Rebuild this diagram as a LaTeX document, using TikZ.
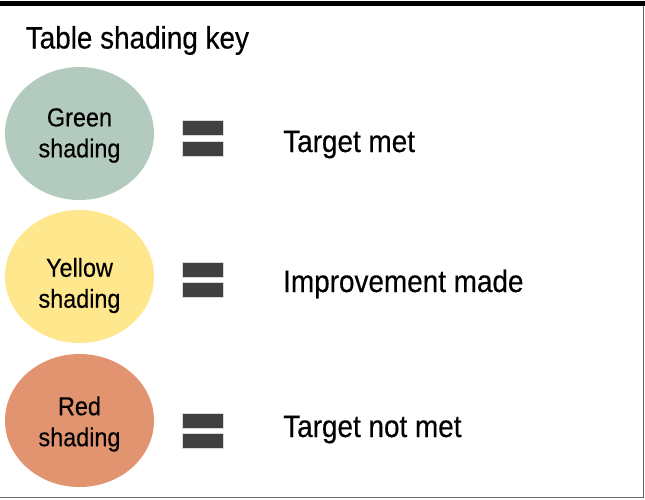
\documentclass[tikz,border=0pt]{standalone}
\usepackage{fontspec}
\setmainfont[FakeStretch=0.9, FakeBold=0.4]{Liberation Sans}
\usetikzlibrary{positioning, shapes.geometric}
\usepackage{xcolor}
\definecolor{keygreen}{HTML}{B3CBBE}
\definecolor{keyyellow}{HTML}{FFE78D}
\definecolor{keyred}{HTML}{E1946F}
\definecolor{keybar}{HTML}{404040}

\begin{document}
\begin{tikzpicture}[
    x=1pt, y=-1pt,
    blob/.style={ellipse, fill=#1, minimum width=149pt, minimum height=133pt, inner sep=0pt},
    blobtext/.style={align=center, inner sep=0pt, font=\fontsize{26}{31}\selectfont},
    bar/.style={rectangle, fill=keybar, draw=black!15, line width=0.6pt,
                minimum width=41pt, minimum height=15pt, inner sep=0pt},
    meaning/.style={anchor=base west, inner sep=0pt, font=\fontsize{31}{36}\selectfont}
  ]
    % frame
    \useasboundingbox (0,0) rectangle (645,499);
    \draw[line width=5pt] (0,3.5) -- (645,3.5);
    \draw[black!60, line width=1.3pt] (643.5,6) -- (643.5,497.5) -- (0,497.5);

    \node[anchor=base west, inner sep=0pt, font=\fontsize{31}{36}\selectfont] (title) at (25.5,48.5) {Table shading key};

    % green row
    \node[blob=keygreen] (green) at (79.5,133.5) {};
    \node[blobtext] (greentext) at (79.5,135.5) {Green\\shading};
    \node[bar] (greentop) at (202.5,127.5) {};
    \node[bar] (greenbot) at (202.5,148.5) {};
    \node[meaning] (met) at (283,152) {Target met};

    % yellow row
    \node[blob=keyyellow] (yellow) at (79.5,276.5) {};
    \node[blobtext] (yellowtext) at (79.5,285.5) {Yellow\\shading};
    \node[bar] (yellowtop) at (202.5,269.5) {};
    \node[bar] (yellowbot) at (202.5,290) {};
    \node[meaning] (improved) at (283,292) {Improvement made};

    % red row
    \node[blob=keyred] (red) at (79.5,420.5) {};
    \node[blobtext] (redtext) at (79.5,424) {Red\\shading};
    \node[bar] (redtop) at (202.5,420.5) {};
    \node[bar] (redbot) at (202.5,441) {};
    \node[meaning] (notmet) at (283,437) {Target not met};
  \end{tikzpicture}
\end{document}
